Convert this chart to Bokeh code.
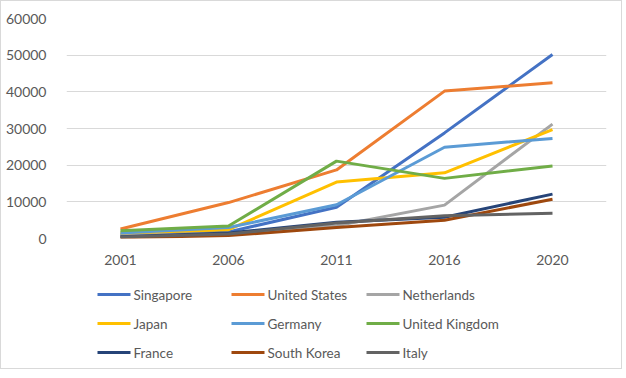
from bokeh.plotting import figure
from bokeh.models import FactorRange, Range1d, ColumnDataSource
from bokeh.layouts import column
from bokeh.embed import file_html
from bokeh.resources import INLINE
from bokeh.core.properties import value

years = ["2001", "2006", "2011", "2016", "2020"]
countries = ["Singapore", "United States", "Netherlands", "Japan", "Germany",
             "United Kingdom", "France", "South Korea", "Italy"]
singapore = [1000, 1800, 8500, 28800, 50200]
united_states = [2600, 9800, 18700, 40200, 42500]
netherlands = [1000, 1500, 3500, 9100, 31200]
japan = [1500, 2400, 15400, 17900, 29700]
germany = [1500, 3000, 9200, 24900, 27300]
united_kingdom = [2100, 3400, 21100, 16400, 19800]
france = [500, 1500, 4400, 5800, 12100]
south_korea = [200, 800, 3000, 5000, 10700]
italy = [400, 1200, 4200, 6200, 6900]
series = [singapore, united_states, netherlands, japan, germany,
          united_kingdom, france, south_korea, italy]
colors = ["#4472C4", "#ED7D31", "#A5A5A5", "#FFC000", "#5B9BD5",
          "#70AD47", "#264478", "#9E480E", "#636363"]

FONT = "Lato"
TXT = "#595959"
W = 620
BL, BR = 65, 15

p = figure(width=W, height=266, x_range=FactorRange(*years),
           y_range=Range1d(0, 60000), output_backend="svg",
           toolbar_location=None, min_border_left=BL, min_border_right=BR,
           min_border_top=17, min_border_bottom=0)
p.outline_line_color = None
p.xgrid.grid_line_color = None
p.ygrid.grid_line_color = "#D9D9D9"
p.ygrid.grid_line_width = 1
p.yaxis.ticker = [0, 10000, 20000, 30000, 40000, 50000, 60000]
p.yaxis.formatter.use_scientific = False
for ax in (p.xaxis[0], p.yaxis[0]):
    ax.axis_line_color = None
    ax.major_tick_line_color = None
    ax.minor_tick_line_color = None
    ax.major_label_text_font = FONT
    ax.major_label_text_font_size = "14px"
    ax.major_label_text_color = TXT
p.xaxis.major_label_standoff = 10
p.yaxis.major_label_standoff = 14

for vals, c in zip(series, colors):
    p.line(years, vals, line_color=c, line_width=3)

# legend figure (x coordinates in page pixels, frame aligned with the chart)
lg = figure(width=W, height=101, x_range=Range1d(66, 606), y_range=Range1d(101, 0),
            output_backend="svg", toolbar_location=None,
            min_border_left=BL, min_border_right=BR,
            min_border_top=0, min_border_bottom=0)
lg.axis.visible = False
lg.grid.visible = False
lg.outline_line_color = None
col_x = [97, 231, 366]
row_y = [27, 56, 85]
x0, x1, xt, yy, names, cols = [], [], [], [], [], []
for i, (n, c) in enumerate(zip(countries, colors)):
    cx = col_x[i % 3]
    ry = row_y[i // 3]
    x0.append(cx); x1.append(cx + 33); xt.append(cx + 36); yy.append(ry)
    names.append(n); cols.append(c)
src = ColumnDataSource(dict(x0=x0, x1=x1, xt=xt, y=yy, name=names, color=cols))
lg.segment(x0="x0", y0="y", x1="x1", y1="y", line_color="color", line_width=3, source=src)
lg.text(x="xt", y="y", text="name", source=src, text_font=value(FONT),
        text_font_size="13.5px", text_color=TXT, text_baseline="middle", text_align="left")

layout = column(p, lg, spacing=0, styles={"border": "1px solid #D9D9D9"})
open("out.html", "w").write(file_html(layout, INLINE))
